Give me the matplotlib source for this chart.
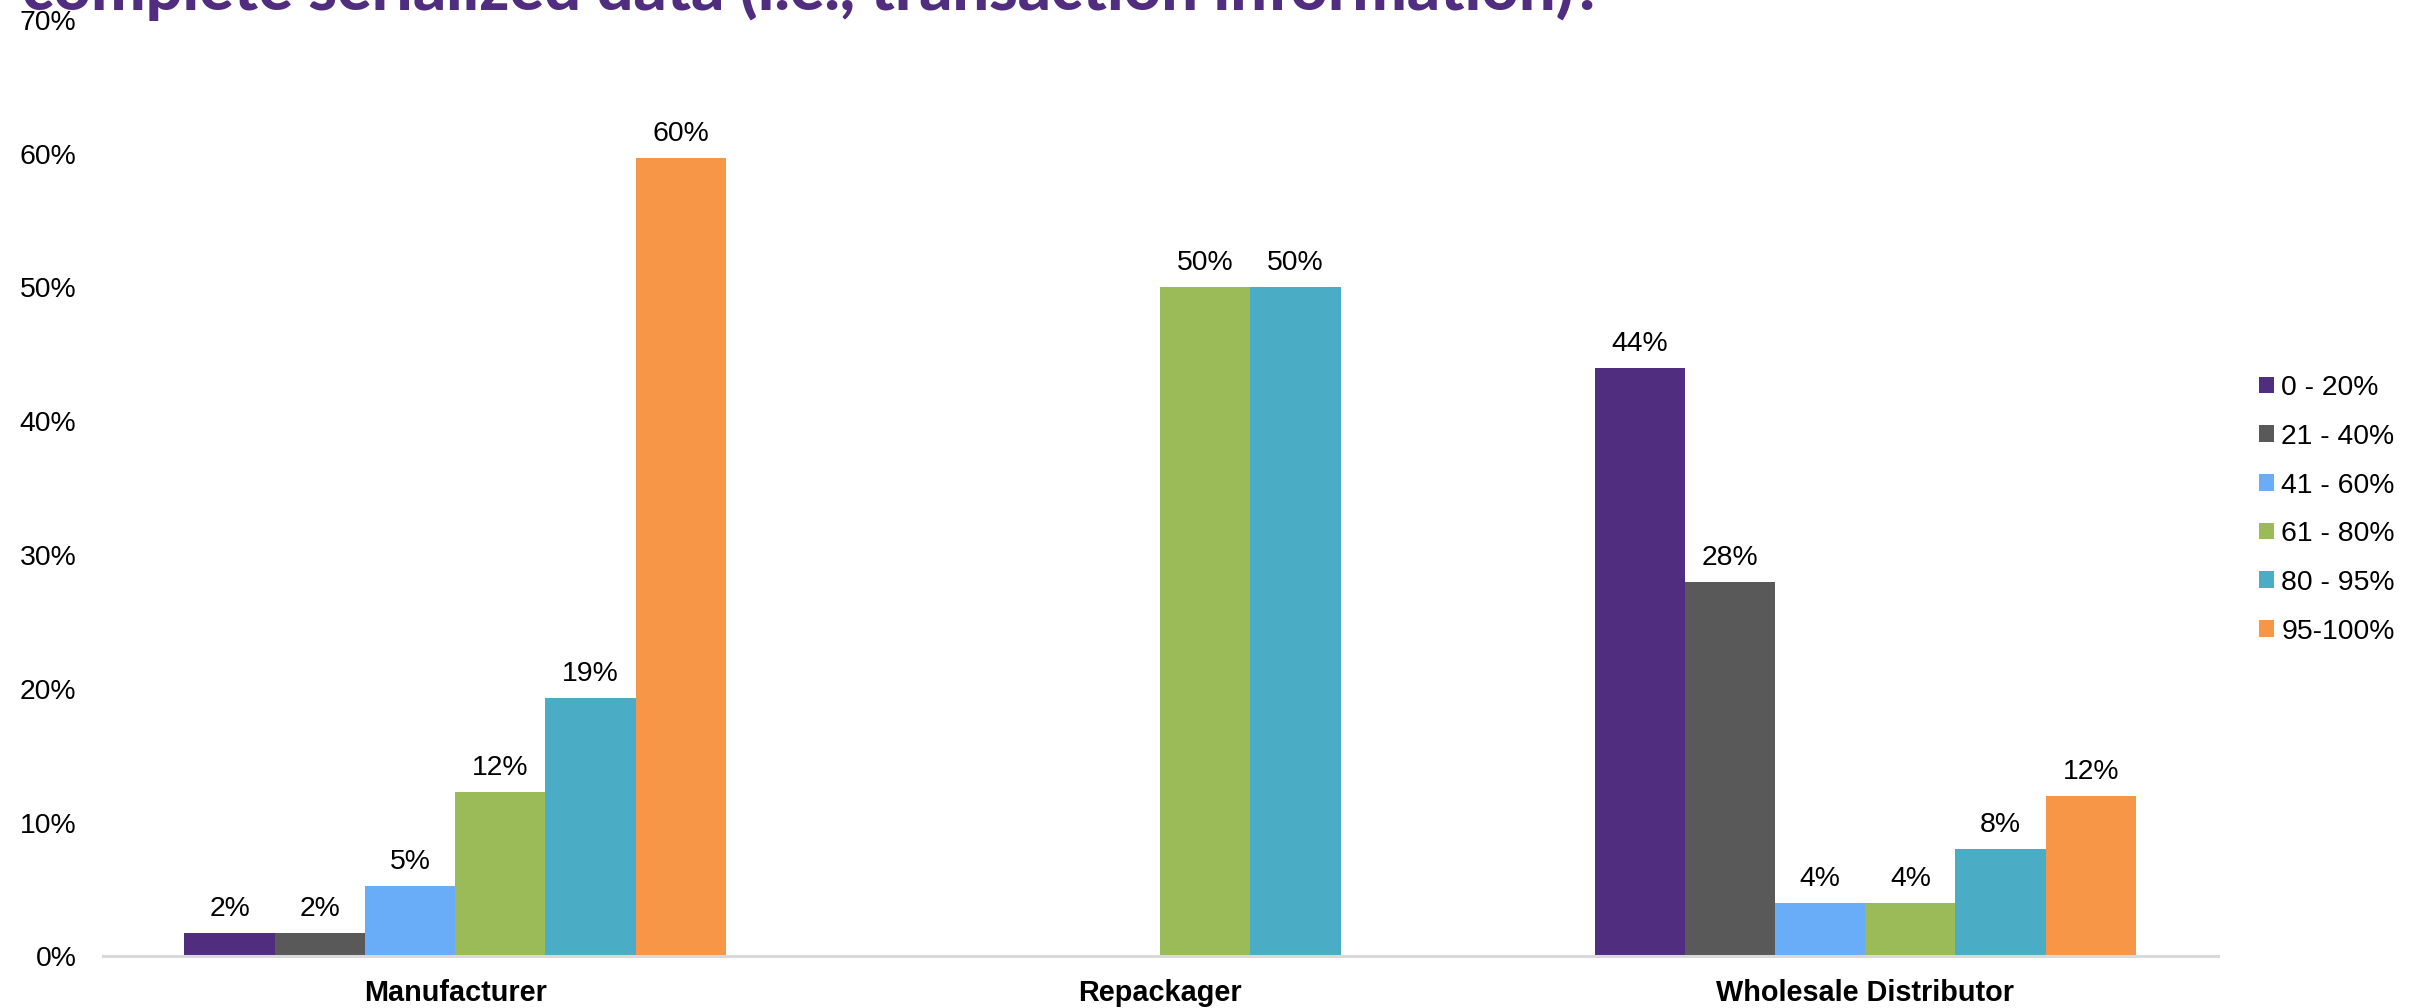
import matplotlib
matplotlib.use("Agg")
import matplotlib.pyplot as plt
import numpy as np
from matplotlib.patches import Patch
from matplotlib.ticker import FuncFormatter

# Share of respondents by completeness band, per trading-partner type
categories = ["Manufacturer", "Repackager", "Wholesale Distributor"]
bands = ["0 - 20%", "21 - 40%", "41 - 60%", "61 - 80%", "80 - 95%", "95-100%"]
manufacturer = [1.75, 1.75, 5.26, 12.28, 19.30, 59.65]
repackager = [0.0, 0.0, 0.0, 50.0, 50.0, 0.0]
wholesale = [44.0, 28.0, 4.0, 4.0, 8.0, 12.0]
yticks = [0, 10, 20, 30, 40, 50, 60, 70]
title = "complete serialized data (i.e., transaction information)?"

colors = ["#512D80", "#595959", "#69ACF8", "#9BBB59", "#4BACC6", "#F79646"]

series = np.array([manufacturer, repackager, wholesale]).T  # band x category

plt.rcParams["font.family"] = ["Liberation Sans", "DejaVu Sans"]

fig = plt.figure(figsize=(24.28, 10.08), dpi=100)
ax = fig.add_axes([0.0423, 0.0511, 0.8711, 0.9293])

x = np.arange(len(categories))
width = 0.128
for i, (band, vals) in enumerate(zip(bands, series)):
    offs = (i - 2.5) * width
    for xi, v in zip(x, vals):
        if v <= 0:
            continue
        ax.bar(xi + offs, v, width=width, color=colors[i], linewidth=0)
        ax.annotate(f"{v:.0f}%", (xi + offs, v), xytext=(0, 12.3),
                    textcoords="offset points", ha="center", va="baseline",
                    fontsize=20.4, color="black")

ax.set_xlim(-0.5, 2.5)
ax.set_ylim(0, 70)
ax.set_yticks(yticks)
ax.yaxis.set_major_formatter(FuncFormatter(lambda v, p: f"{v:.0f}%"))
ax.set_xticks(x)
ax.set_xticklabels(categories, fontsize=20.8, fontweight="bold")
ax.tick_params(axis="y", length=0, pad=19, labelsize=20.4)
ax.tick_params(axis="x", length=0, pad=16)

for s in ["top", "right", "left"]:
    ax.spines[s].set_visible(False)
ax.spines["bottom"].set_color("#D9D9D9")
ax.spines["bottom"].set_linewidth(2.2)

handles = [Patch(facecolor=c, edgecolor="none", label=b) for c, b in zip(colors, bands)]
fig.legend(handles=handles, loc="center left", bbox_to_anchor=(0.9305, 0.4942),
           frameon=False, fontsize=20.4, handlelength=0.53, handleheight=0.53,
           handletextpad=0.25, labelspacing=0.80, borderpad=0, borderaxespad=0)

fig.text(22 / 2428, 1 - 10 / 1008, title, fontsize=46.6, fontweight="black",
         color="#512D80", family=["Lato", "DejaVu Sans"], va="baseline", ha="left")

fig.savefig("out.png", dpi=100)
